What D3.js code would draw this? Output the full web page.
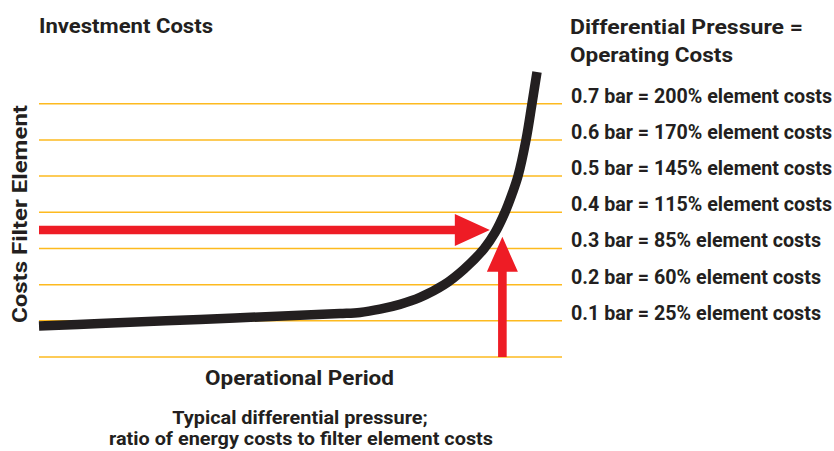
<!DOCTYPE html>
<html>
<head>
<meta charset="utf-8">
<script src="https://cdn.jsdelivr.net/npm/d3@7"></script>
<style>
  html, body { margin: 0; padding: 0; background: #fff; }
  svg text { font-family: Roboto, "Noto Sans", sans-serif; font-weight: 700; fill: #231f20; }
</style>
</head>
<body>
<svg id="chart" width="834" height="451"></svg>
<script>
// ---- data ----
const gridLevels = [0, 1, 2, 3, 4, 5, 6, 7];
const pressureLabels = [
  "0.1 bar = 25% element costs",
  "0.2 bar = 60% element costs",
  "0.3 bar = 85% element costs",
  "0.4 bar = 115% element costs",
  "0.5 bar = 145% element costs",
  "0.6 bar = 170% element costs",
  "0.7 bar = 200% element costs"
];
const labelLevels = [1, 2, 3, 4, 5, 6, 7];
// cost curve over operational period (x: 0-100, y: cost level)
const periodX = [0, 11.66, 30.78, 49.9, 57.55, 61.38, 65.2, 69.02, 72.85, 77.44, 81.26, 85.09, 87.19, 89.1, 90.44, 91.59, 93.12, 94.26, 95.22];
const costY   = [0.857, 0.926, 1.039, 1.152, 1.199, 1.23, 1.321, 1.454, 1.647, 1.995, 2.426, 2.993, 3.435, 4.0, 4.5, 5.0, 6.0, 7.0, 7.876];
// arrows: horizontal (investment) and vertical (operating)
const hArrow = { x0: 0, x1: 86.2, y: 3.51 };
const vArrow = { x: 88.6, y0: 0, y1: 3.32 };

// ---- layout ----
const svg = d3.select("#chart");
const x = d3.scaleLinear().domain([0, 100]).range([39, 562]);
const y = d3.scaleLinear().domain([0, 7]).range([357, 103.7]);

const gridColor = "#FDBA1F";
const red = "#EE1C25";
const dark = "#231F20";

// gridlines
svg.append("g").selectAll("line").data(gridLevels).join("line")
  .attr("x1", x(0)).attr("x2", x(100))
  .attr("y1", d => y(d)).attr("y2", d => y(d))
  .attr("stroke", gridColor).attr("stroke-width", 1.5);

// arrows
function arrowH(a) {
  const x0 = x(a.x0), x1 = x(a.x1), yy = y(a.y);
  const headLen = 35, headHalf = 16, shaft = 4.2;
  return `M${x0},${yy - shaft}L${x1 - headLen},${yy - shaft}L${x1 - headLen},${yy - headHalf}L${x1},${yy}L${x1 - headLen},${yy + headHalf}L${x1 - headLen},${yy + shaft}L${x0},${yy + shaft}Z`;
}
function arrowV(a) {
  const xx = x(a.x), y0 = y(a.y0), y1 = y(a.y1);
  const headLen = 35, headHalf = 15.5, shaft = 4.3;
  return `M${xx - shaft},${y0}L${xx - shaft},${y1 + headLen}L${xx - headHalf},${y1 + headLen}L${xx},${y1}L${xx + headHalf},${y1 + headLen}L${xx + shaft},${y1 + headLen}L${xx + shaft},${y0}Z`;
}
svg.append("path").attr("d", arrowH(hArrow)).attr("fill", red);
svg.append("path").attr("d", arrowV(vArrow)).attr("fill", red);

// curve
const pts = periodX.map((px, i) => [px, costY[i]]);
const line = d3.line().x(d => x(d[0])).y(d => y(d[1])).curve(d3.curveCatmullRom.alpha(0.5));
svg.append("path").datum(pts).attr("d", line)
  .attr("fill", "none").attr("stroke", dark).attr("stroke-width", 9.5)
  .attr("stroke-linecap", "butt").attr("stroke-linejoin", "round");

// texts
function txt(s, xx, yy, size, width, anchor) {
  const t = svg.append("text").attr("x", xx).attr("y", yy)
    .attr("font-size", size).attr("text-anchor", anchor || "start").text(s);
  if (width) t.attr("textLength", width).attr("lengthAdjust", "spacingAndGlyphs");
  return t;
}
txt("Investment Costs", 39, 33, 21, 174);
txt("Differential Pressure =", 570, 34, 20, 233);
txt("Operating Costs", 570, 62, 20, 163);

svg.append("g").selectAll("text").data(labelLevels).join("text")
  .attr("x", 571).attr("y", d => y(d) - 1)
  .attr("font-size", 19.5)
  .attr("textLength", (d, i) => pressureLabels[i].indexOf("%") >= 13 ? 261 : 250)
  .attr("lengthAdjust", "spacingAndGlyphs")
  .text((d, i) => pressureLabels[i]);

txt("Operational Period", 299.5, 385, 21, 189, "middle");
const b1 = txt("Typical differential pressure;", 300, 424, 17.5, null, "middle");
const b2 = txt("ratio of energy costs to filter element costs", 301, 445, 17.5, null, "middle");
const k = 384 / b2.node().getComputedTextLength();
b2.attr("textLength", 384).attr("lengthAdjust", "spacingAndGlyphs");
b1.attr("textLength", b1.node().getComputedTextLength() * k).attr("lengthAdjust", "spacingAndGlyphs");

svg.append("text")
  .attr("transform", "translate(27,214) rotate(-90)")
  .attr("text-anchor", "middle").attr("font-size", 20)
  .attr("textLength", 218).attr("lengthAdjust", "spacingAndGlyphs")
  .text("Costs Filter Element");
</script>
</body>
</html>
